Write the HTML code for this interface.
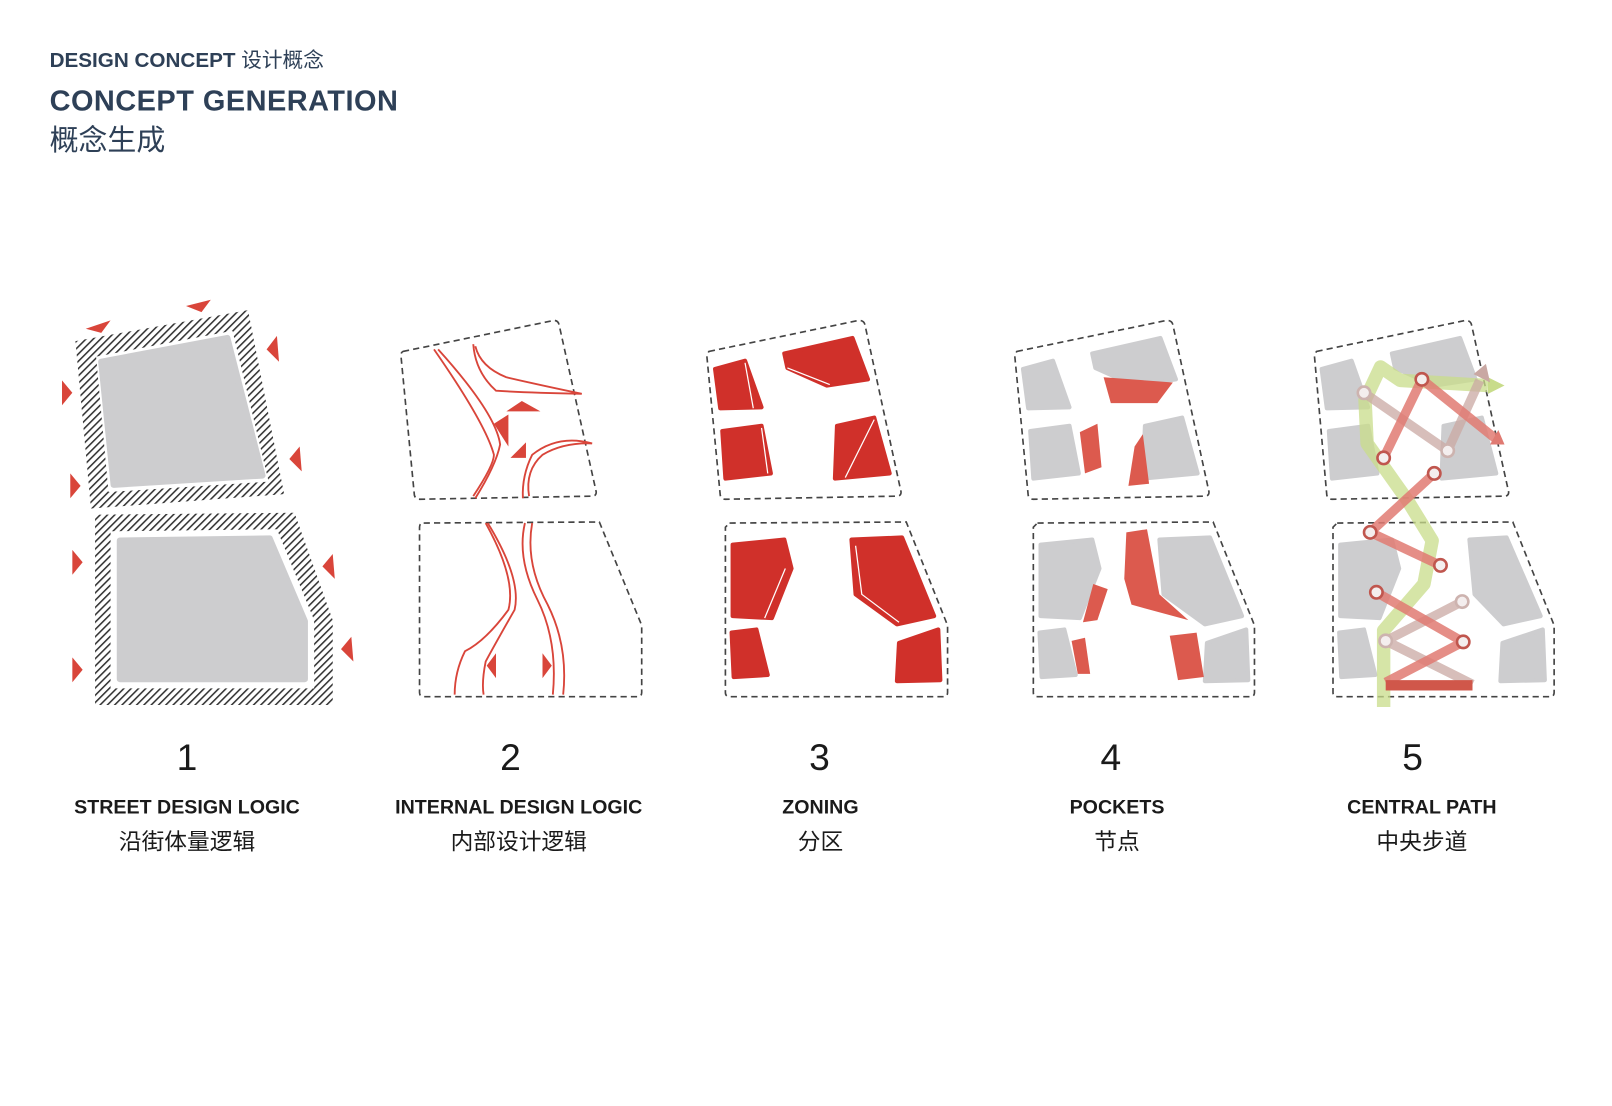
<!DOCTYPE html>
<html><head><meta charset="utf-8"><style>
html,body{margin:0;padding:0;background:#fff;width:1612px;height:1106px;overflow:hidden}
svg{display:block}
</style></head><body>
<svg width="1612" height="1106" viewBox="0 0 1560 1070" preserveAspectRatio="none" xmlns="http://www.w3.org/2000/svg">
<defs>
<pattern id="h" width="5" height="5" patternUnits="userSpaceOnUse" patternTransform="rotate(-45)">
<rect width="5" height="5" fill="#fff"/><rect width="5" height="1.5" fill="#333"/></pattern>
</defs>
<g font-family="Liberation Sans, Noto Sans CJK SC, sans-serif" fill="#2e4057" font-weight="bold">
<text x="48" y="65" font-size="20">DESIGN CONCEPT <tspan font-weight="normal">设计概念</tspan></text>
<text x="48" y="107" font-size="28" textLength="337">CONCEPT GENERATION</text>
<text x="48" y="145" font-size="28" font-weight="normal">概念生成</text>
</g>

<!-- Panel 1 -->
<polygon points="73,330 240,300 275,478 88,492" fill="url(#h)"/>
<polygon points="93,345 225,320 260,466 105,476" fill="#fff"/>
<polygon points="98,350 220,327 254,460 110,469" fill="#cdcdcf" stroke="#cdcdcf" stroke-width="6" stroke-linejoin="round"/>
<polygon points="92,498 285,496 322,600 322,682 92,682" fill="url(#h)"/>
<polygon points="107,514 268,512 304,600 304,666 107,666" fill="#fff"/>
<polygon points="116,523 261,521 295,601 295,657 116,657" fill="#cdcdcf" stroke="#cdcdcf" stroke-width="6" stroke-linejoin="round"/>
<g fill="#d9453a">
<polygon points="83,318 107,310 98,322"/><polygon points="180,296 204,290 195,302"/>
<polygon points="258,338 268,325 270,350"/><polygon points="60,368 70,380 60,392"/>
<polygon points="280,444 290,432 292,456"/><polygon points="68,458 78,470 68,482"/>
<polygon points="70,532 80,544 70,556"/><polygon points="312,548 322,536 324,560"/>
<polygon points="70,636 80,648 70,660"/><polygon points="330,628 340,616 342,640"/>
</g>

<!-- Panel 2 -->
<g fill="none" stroke="#444" stroke-width="1.6" stroke-dasharray="6,4">
<path d="M390,340 L536,310 Q540,310 541,314 L577,476 Q577,480 573,480 L406,483 Q402,483 401,479 L388,344 Q388,341 390,340Z"/>
<path d="M410,506 L580,505 L621,605 L621,670 Q621,674 617,674 L410,674 Q406,674 406,670 L406,510 Q406,506 410,506Z"/>
</g>
<g fill="none" stroke="#d9453a" stroke-width="1.8">
<path d="M420,338 Q470,410 478,440 Q478,450 458,480"/>
<path d="M424,338 Q480,400 484,430 Q480,450 460,482"/>
<path d="M458,333 Q460,360 480,378 Q510,380 563,381 Q520,372 490,365 Q465,355 460,335"/>
<path d="M512,480 Q508,455 525,440 Q545,428 573,429 Q540,420 515,440 Q505,460 506,482"/>
<path d="M470,506 Q500,560 492,590 Q470,620 450,630 Q440,650 440,672"/>
<path d="M472,506 Q505,560 498,590 Q478,625 470,640 Q466,660 468,672"/>
<path d="M508,506 Q500,540 520,580 Q540,620 535,672"/>
<path d="M515,506 Q508,545 530,585 Q550,625 545,672"/>
</g>
<g fill="#d9453a">
<polygon points="490,398 505,388 523,398"/><polygon points="478,410 492,401 492,432"/>
<polygon points="494,443 509,428 509,443"/><polygon points="471,644 480,632 480,656"/>
<polygon points="525,632 534,644 525,656"/>
</g>

<!-- dashed boxes 3,4,5 -->
<g fill="none" stroke="#444" stroke-width="1.6" stroke-dasharray="6,4">
<path d="M686,340 L831,310 Q836,310 837,314 L872,476 Q872,480 868,480 L702,483 Q698,483 697,479 L684,344Z"/>
<path d="M706,506 L877,505 L917,605 L917,670 Q917,674 913,674 L706,674 Q702,674 702,670 L702,510Z"/>
<path d="M984,340 L1129,310 Q1134,310 1135,314 L1170,476 Q1170,480 1166,480 L1000,483 Q996,483 995,479 L982,344Z"/>
<path d="M1004,506 L1174,505 L1214,605 L1214,670 Q1214,674 1210,674 L1004,674 Q1000,674 1000,670 L1000,510Z"/>
<path d="M1274,340 L1418,310 Q1423,310 1424,314 L1460,476 Q1460,480 1456,480 L1289,483 Q1285,483 1284,479 L1272,344Z"/>
<path d="M1294,506 L1464,505 L1504,605 L1504,670 Q1504,674 1500,674 L1294,674 Q1290,674 1290,670 L1290,510Z"/>
</g>

<!-- Panel 3 -->
<g fill="#d0302a" stroke="#d0302a" stroke-width="4" stroke-linejoin="round">
<polygon points="692,357 721,349 737,394 697,395"/>
<polygon points="699,417 737,412 746,458 702,463"/>
<polygon points="759,342 825,327 840,367 800,373 762,356"/>
<polygon points="810,412 846,404 861,458 808,463"/>
<polygon points="709,527 759,522 766,550 747,598 709,596"/>
<polygon points="708,612 732,609 743,653 710,655"/>
<polygon points="824,522 873,520 904,596 868,604 828,575"/>
<polygon points="870,622 908,609 910,658 868,659"/>
</g>
<g stroke="#fff" stroke-width="1.2" fill="none">
<path d="M721,351 L729,395"/><path d="M737,414 L743,458"/><path d="M762,356 L803,372"/><path d="M846,406 L818,462"/>
<path d="M828,528 L834,575 L870,602"/><path d="M740,598 L760,550"/>
</g>

<!-- Panel 4 -->
<g fill="#cdcdcf" stroke="#cdcdcf" stroke-width="4" stroke-linejoin="round">
<polygon points="990,357 1019,349 1035,394 995,395"/>
<polygon points="997,417 1035,412 1044,458 1000,463"/>
<polygon points="1057,342 1123,327 1138,367 1098,373 1060,356"/>
<polygon points="1108,412 1144,404 1159,458 1106,463"/>
<polygon points="1007,527 1057,522 1064,550 1045,598 1007,596"/>
<polygon points="1006,612 1030,609 1041,653 1008,655"/>
<polygon points="1122,522 1171,520 1202,596 1166,604 1126,575"/>
<polygon points="1168,622 1206,609 1208,658 1166,659"/>
</g>
<g fill="#dc5a4e">
<polygon points="1068,365 1135,370 1120,390 1075,390"/>
<polygon points="1045,418 1062,410 1066,452 1050,458"/>
<polygon points="1098,432 1106,420 1112,468 1092,470"/>
<polygon points="1090,515 1110,512 1122,575 1150,600 1095,585 1088,560"/>
<polygon points="1058,565 1072,570 1062,600 1048,602"/>
<polygon points="1037,620 1050,617 1055,652 1043,652"/>
<polygon points="1132,615 1158,612 1165,655 1140,658"/>
</g>

<!-- Panel 5 -->
<g fill="#cdcdcf" stroke="#cdcdcf" stroke-width="4" stroke-linejoin="round">
<polygon points="1279,357 1308,349 1324,394 1284,395"/>
<polygon points="1286,417 1324,412 1333,458 1289,463"/>
<polygon points="1347,342 1413,327 1428,367 1388,373 1350,356"/>
<polygon points="1397,412 1434,404 1448,458 1395,463"/>
<polygon points="1297,527 1347,522 1354,550 1335,598 1297,596"/>
<polygon points="1296,612 1320,609 1331,653 1298,655"/>
<polygon points="1422,522 1458,520 1491,596 1455,604 1427,575"/>
<polygon points="1454,622 1493,609 1495,658 1452,659"/>
</g>
<g fill="none" stroke-linecap="butt" stroke-linejoin="round">
<polyline points="1339,684 1339,610 1378,565 1386,523 1362,484 1323,429 1321,387 1336,355 1355,368 1440,373" stroke="#c8dc8a" stroke-width="13" opacity="0.75"/>
<polyline points="1320,380 1401,436 1432,368" stroke="#c9a8a3" stroke-width="9" opacity="0.75"/>
<polyline points="1415,582 1341,620 1425,662" stroke="#c9a8a3" stroke-width="9" opacity="0.75"/>
<polyline points="1339,443 1376,367 1448,425" stroke="#e07a72" stroke-width="9" opacity="0.85"/>
<polyline points="1388,458 1326,515 1394,547" stroke="#e07a72" stroke-width="9" opacity="0.85"/>
<polyline points="1332,573 1416,621 1341,660" stroke="#e07a72" stroke-width="9" opacity="0.85"/>
</g>
<polygon points="1440,365 1456,373 1440,381" fill="#c8dc8a"/>
<polygon points="1426,362 1438,352 1442,370" fill="#c9a8a3"/>
<polygon points="1442,430 1456,430 1450,416" fill="#e07a72"/>
<rect x="1341" y="658" width="84" height="10" fill="#d0574a"/>
<g fill="#f4eeee" stroke="#c0564e" stroke-width="2.5">
<circle cx="1376" cy="367" r="6"/><circle cx="1339" cy="443" r="6"/>
<circle cx="1388" cy="458" r="6"/><circle cx="1326" cy="515" r="6"/>
<circle cx="1394" cy="547" r="6"/><circle cx="1332" cy="573" r="6"/>
<circle cx="1416" cy="621" r="6"/>
</g>
<g fill="#f4eeee" stroke="#cdb3af" stroke-width="2.5">
<circle cx="1320" cy="380" r="6"/><circle cx="1401" cy="436" r="6"/>
<circle cx="1415" cy="582" r="6"/><circle cx="1341" cy="620" r="6"/>
</g>

<!-- labels -->
<g font-family="Liberation Sans, Noto Sans CJK SC, sans-serif" fill="#1a1a1a" text-anchor="middle">
<g font-size="36"><text x="181" y="745">1</text><text x="494" y="745">2</text><text x="793" y="745">3</text><text x="1075" y="745">4</text><text x="1367" y="745">5</text></g>
<g font-size="19" font-weight="bold"><text x="181" y="787">STREET DESIGN LOGIC</text><text x="502" y="787">INTERNAL DESIGN LOGIC</text><text x="794" y="787">ZONING</text><text x="1081" y="787">POCKETS</text><text x="1376" y="787">CENTRAL PATH</text></g>
<g font-size="22"><text x="181" y="822">沿街体量逻辑</text><text x="502" y="822">内部设计逻辑</text><text x="794" y="822">分区</text><text x="1081" y="822">节点</text><text x="1376" y="822">中央步道</text></g>
</g>
</svg>
</body></html>
